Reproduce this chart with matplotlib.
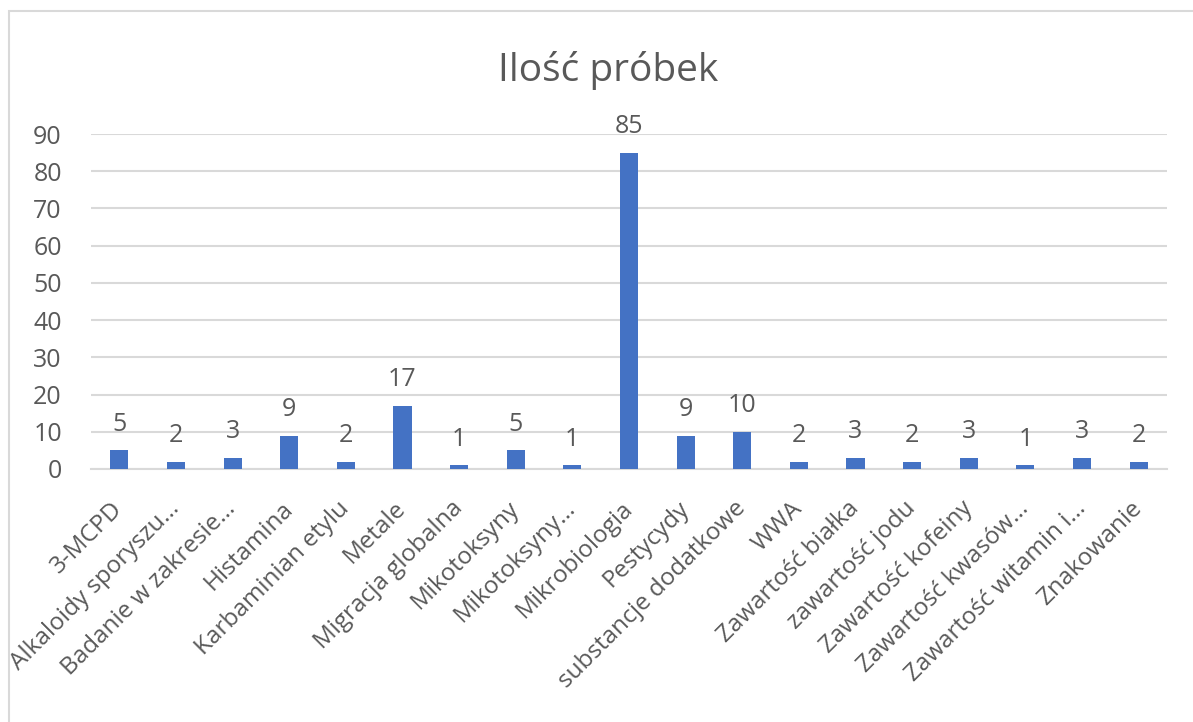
import matplotlib
matplotlib.use("Agg")
import matplotlib.pyplot as plt
from matplotlib.patches import Rectangle

plt.rcParams['font.family'] = ['Open Sans', 'DejaVu Sans']

categories = ["3-MCPD", "Alkaloidy sporyszu…", "Badanie w zakresie…", "Histamina",
              "Karbaminian etylu", "Metale", "Migracja globalna", "Mikotoksyny",
              "Mikotoksyny…", "Mikrobiologia", "Pestycydy", "substancje dodatkowe",
              "WWA", "Zawartość białka", "zawartość jodu", "Zawartość kofeiny",
              "Zawartość kwasów…", "Zawartość witamin i…", "Znakowanie"]
values = [5, 2, 3, 9, 2, 17, 1, 5, 1, 85, 9, 10, 2, 3, 2, 3, 1, 3, 2]
yticks = [0, 10, 20, 30, 40, 50, 60, 70, 80, 90]

text_color = "#595959"
fig = plt.figure(figsize=(11.93, 7.22), dpi=100)
fig.patches.append(Rectangle((9/1193, -0.1), 1.2, 1 - 11/722 + 0.1, transform=fig.transFigure,
                             fill=False, edgecolor="#D9D9D9", linewidth=1.5))
ax = fig.add_axes([91/1193, 1 - 469/722, (1167 - 91)/1193, (469 - 134)/722])

x = list(range(len(categories)))
bars = ax.bar(x, values, width=0.32, color="#4472C4", zorder=3)
for xi, v in zip(x, values):
    ax.annotate(str(v), (xi, v), xytext=(0, 14), textcoords="offset points",
                ha="center", va="baseline", fontsize=18, color=text_color)

ax.set_xlim(-0.5, len(categories) - 0.5)
ax.set_ylim(0, 90)
ax.set_yticks(yticks)
ax.set_yticklabels([str(t) for t in yticks], fontsize=18, color=text_color)
ax.set_xticks(x)
ax.set_xticklabels(categories, rotation=45, ha="right", va="center",
                   rotation_mode="anchor", fontsize=17.5, color=text_color)
ax.tick_params(axis="both", length=0)
ax.tick_params(axis="y", pad=21)
ax.tick_params(axis="x", pad=26)
ax.yaxis.grid(True, color="#D9D9D9", linewidth=1.5, zorder=0)
for s in ["top", "right", "left"]:
    ax.spines[s].set_visible(False)
ax.spines["bottom"].set_color("#D9D9D9")
ax.spines["bottom"].set_linewidth(1.5)

fig.text(608/1193, 1 - 70/722, "Ilość próbek", ha="center", va="center",
         fontsize=28, color=text_color)

fig.savefig("out.png", dpi=100)
